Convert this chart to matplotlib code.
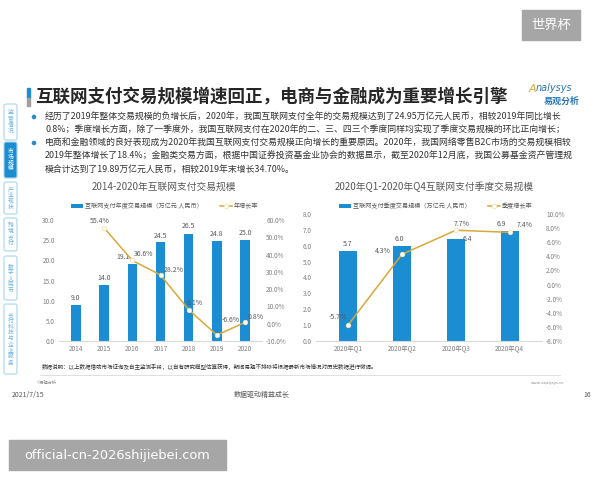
import matplotlib.pyplot as plt
import numpy as np
from matplotlib.patches import Rectangle, FancyBboxPatch, Circle

plt.rcParams['font.family'] = ['Noto Sans CJK SC', 'DejaVu Sans']

# ---- data ----
years = ['2014', '2015', '2016', '2017', '2018', '2019', '2020']
annual_scale = [9.0, 14.0, 19.1, 24.5, 26.5, 24.8, 25.0]
annual_growth = [np.nan, 55.4, 36.6, 28.2, 8.1, -6.6, 0.8]

quarters = ['2020年Q1', '2020年Q2', '2020年Q3', '2020年Q4']
quarter_scale = [5.7, 6.0, 6.4, 6.9]
quarter_growth = [-5.7, 4.3, 7.7, 7.4]

left_yticks = [0, 5, 10, 15, 20, 25, 30]
left_rticks = [-10, 0, 10, 20, 30, 40, 50, 60]
right_yticks = [0, 1, 2, 3, 4, 5, 6, 7, 8]
right_rticks = [-8, -6, -4, -2, 0, 2, 4, 6, 8, 10]

bullet_lines = [
    '经历了2019年整体交易规模的负增长后，2020年，我国互联网支付全年的交易规模达到了24.95万亿元人民币，相较2019年同比增长',
    '0.8%；季度增长方面，除了一季度外，我国互联网支付在2020年的二、三、四三个季度同样均实现了季度交易规模的环比正向增长；',
    '电商和金融领域的良好表现成为2020年我国互联网支付交易规模正向增长的重要原因。2020年，我国网络零售B2C市场的交易规模相较',
    '2019年整体增长了18.4%；金融类交易方面，根据中国证券投资基金业协会的数据显示，截至2020年12月底，我国公募基金资产管理规',
    '模合计达到了19.89万亿元人民币，相较2019年末增长34.70%。',
]
side_tabs = ['监管情况', '市场规模', '产业现状', '跨境支付', '数字人民币', '支付科技与企业服务']

BLUE = '#1B8DD3'
GOLD = '#D9A83B'
GREY = '#595959'
W, H = 600, 480


def box(l, t, r, b):
    # pixel box (top-left origin) -> figure fraction
    return [l / W, 1 - b / H, (r - l) / W, (b - t) / H]


fig = plt.figure(figsize=(6, 4.8), dpi=100, facecolor='white')

# overlay for slide decoration, in pixel coords
deco = fig.add_axes([0, 0, 1, 1], zorder=0)
deco.set_xlim(0, W)
deco.set_ylim(H, 0)
deco.axis('off')

# watermark boxes
deco.add_patch(Rectangle((522, 10), 58, 30, color='#A6A6A6'))
deco.text(551, 25.5, '世界杯', color='white', fontsize=9.5, ha='center', va='center')
deco.add_patch(Rectangle((9, 440), 217, 30, color='#A6A6A6'))
deco.text(117, 455, 'official-cn-2026shijiebei.com', color='white', fontsize=9.3,
          ha='center', va='center', family='DejaVu Sans')

# title
deco.add_patch(Rectangle((27, 88), 2.5, 10, color=BLUE))
deco.add_patch(Rectangle((27, 98), 2.5, 8, color='#A0A0A0'))
deco.text(35, 97, '互联网支付交易规模增速回正，电商与金融成为重要增长引擎', fontsize=12.6,
          fontweight='bold', color='#262626', va='center', ha='left')
deco.text(529, 89, 'A', color=GOLD, fontsize=8, style='italic', va='center', family='DejaVu Sans')
deco.text(536, 88, 'nalysys', color='#2A77B8', fontsize=7, style='italic', va='center',
          family='DejaVu Sans')
deco.text(562, 101, '易观分析', color='#2A77B8', fontsize=6.5, fontweight='bold',
          ha='center', va='center')

# bullets
for i, line in enumerate(bullet_lines):
    y = 117 + 13 * i
    if i in (0, 2):
        deco.add_patch(Circle((34, y), 1.6, color='#2A8BC8'))
    deco.text(45, y, line, fontsize=6.4, color='#333333', va='center', ha='left')

# sidebar tabs
tab_spans = [(104, 140), (142, 178), (182, 214), (218, 251), (256, 300), (304, 374)]
for name, (t, b) in zip(side_tabs, tab_spans):
    active = name == '市场规模'
    deco.add_patch(FancyBboxPatch((4, t), 13, b - t, boxstyle='round,pad=0,rounding_size=2',
                                  fc=BLUE if active else 'white', ec='#A9D5EE', lw=0.8))
    deco.text(10.5, (t + b) / 2, '\n'.join(name), fontsize=4.2, linespacing=1.2,
              color='white' if active else '#6DB3DE', ha='center', va='center')

# chart titles
deco.text(164, 187, '2014-2020年互联网支付交易规模', fontsize=7, color=GREY, ha='center', va='center')
deco.text(434, 187, '2020年Q1-2020年Q4互联网支付季度交易规模', fontsize=7, color=GREY,
          ha='center', va='center')

# footer
deco.text(42, 367, '数据说明：以上数据借助市场征询及自主监测手段，以自有研究模型估算获得，期间易观不排除将根据最新市场情况对历史数据进行微调。',
          fontsize=4.0, color='#333333', va='center', ha='left')
deco.plot([40, 560], [375, 375], color='#D9D9D9', lw=0.6)
deco.text(37, 383, '©易观分析', fontsize=3, color='#8C8C8C', va='center')
deco.text(565, 383, 'www.analysys.cn', fontsize=3, color='#8C8C8C', va='center', ha='right')
deco.text(12, 395, '2021/7/15', fontsize=5, color='#595959', va='center')
deco.text(262, 395, '数据驱动精益成长', fontsize=5, color='#595959', va='center', ha='center')
deco.text(591, 395, '16', fontsize=5, color='#595959', va='center', ha='right')


def style_axes(ax, ax2):
    ax.set_facecolor('none')
    for s in ['top', 'right', 'left']:
        ax.spines[s].set_visible(False)
        ax2.spines[s].set_visible(False)
    ax.spines['bottom'].set_color('#D9D9D9')
    ax2.spines['bottom'].set_visible(False)
    ax.tick_params(length=0, labelsize=4.6, colors='#7F7F7F', pad=3)
    ax2.tick_params(length=0, labelsize=4.6, colors='#7F7F7F', pad=3)


def draw_chart(rect, cats, bars, growth, yticks, rticks, bar_lbl, line_lbl,
               bar_off, line_off, leg_xy):
    ax = fig.add_axes(rect, zorder=2)
    x = np.arange(len(cats))
    b = ax.bar(x, bars, width=0.33, color=BLUE, label=bar_lbl)
    ax.set_xlim(-0.6, len(cats) - 0.4)
    ax.set_ylim(yticks[0], yticks[-1])
    ax.set_yticks(yticks)
    ax.set_yticklabels(['%.1f' % v for v in yticks])
    ax.set_xticks(x)
    ax.set_xticklabels(cats)
    ax2 = ax.twinx()
    ln, = ax2.plot(x, growth, color=GOLD, lw=1.1, marker='o', ms=3.2,
                   mfc='white', mec='#F3E3B5', mew=0.6, label=line_lbl)
    ax2.set_ylim(rticks[0], rticks[-1])
    ax2.set_yticks(rticks)
    ax2.set_yticklabels(['%.1f%%' % v for v in rticks])
    style_axes(ax, ax2)
    for i, v in enumerate(bars):
        ax.annotate('%.1f' % v, (i, v), xytext=bar_off[i], textcoords='offset pixels',
                    ha='center', va='center', fontsize=5, color=GREY)
    for i, v in enumerate(growth):
        if np.isnan(v):
            continue
        ax2.annotate('%.1f%%' % v, (i, v), xytext=line_off[i], textcoords='offset pixels',
                     ha='center', va='center', fontsize=5, color=GREY)
    ax.legend([b, ln], [bar_lbl, line_lbl], loc='center',
              bbox_to_anchor=(leg_xy[0] / W, 1 - leg_xy[1] / H),
              bbox_transform=fig.transFigure, ncol=2, frameon=False, fontsize=4.4,
              handlelength=2.0, handletextpad=0.3, columnspacing=2.8, labelcolor='#595959')
    return ax


draw_chart(box(59, 220, 262, 341), years, annual_scale, annual_growth,
           left_yticks, left_rticks, '互联网支付年度交易规模（万亿元 人民币）', '年增长率',
           [(0, 7), (0, 7), (-9, 7), (0, 6), (0, 8), (0, 7), (0, 7)],
           [(0, 0), (-4, 7), (11, 6), (13, 5), (6, 7), (14, 15), (11, 5)], (165, 206))

draw_chart(box(316, 214, 542, 341), quarters, quarter_scale, quarter_growth,
           right_yticks, right_rticks, '互联网支付季度交易规模（万亿元 人民币）', '季度增长率',
           [(-1, 7), (-3, 7), (11, 0), (-8, 7)],
           [(-10, 8), (-19, 3), (6, 6), (15, 7)], (436, 206))

fig.savefig('out.png', dpi=100)
